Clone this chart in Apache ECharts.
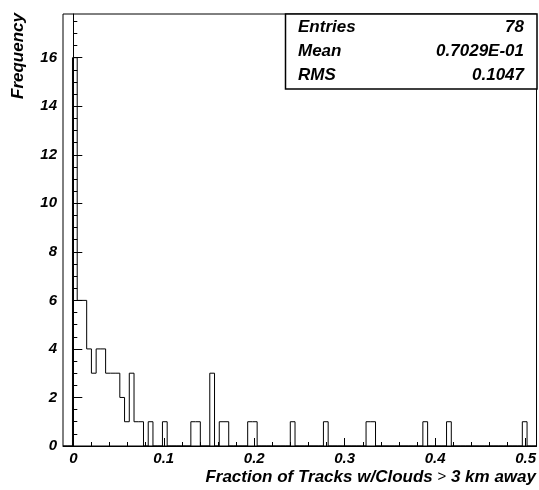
<!DOCTYPE html>
<html>
<head>
<meta charset="utf-8">
<script src="https://cdn.jsdelivr.net/npm/echarts@6/dist/echarts.min.js"></script>
<style>
  html, body { margin: 0; padding: 0; background: #fff; }
  #hist { width: 539px; height: 490px; }
</style>
</head>
<body>
<div id="hist"></div>
<script>
  // histogram binning (100 bins)
  var binLow = -0.0114;
  var binHigh = 0.5121;
  var counts = [
    0, 0, 16, 6, 6, 4, 3, 4, 4, 3,
    3, 3, 2, 1, 3, 1, 1, 0, 1, 0,
    0, 1, 0, 0, 0, 0, 0, 1, 1, 0,
    0, 3, 0, 1, 1, 0, 0, 0, 0, 1,
    1, 0, 0, 0, 0, 0, 0, 0, 1, 0,
    0, 0, 0, 0, 0, 1, 0, 0, 0, 0,
    0, 0, 0, 0, 1, 1, 0, 0, 0, 0,
    0, 0, 0, 0, 0, 0, 1, 0, 0, 0,
    0, 1, 0, 0, 0, 0, 0, 0, 0, 0,
    0, 0, 0, 0, 0, 0, 0, 1, 0, 0
  ];
  var yMax = 17.8;
  var xMajor = [0, 0.1, 0.2, 0.3, 0.4, 0.5];
  var yMajor = [0, 2, 4, 6, 8, 10, 12, 14, 16];
  var statNames = ['Entries', 'Mean', 'RMS'];
  var statValues = ['78', '0.7029E-01', '0.1047'];

  var xMinor = [];
  for (var k = 1; k <= 25; k++) {
    if (k % 5 !== 0) xMinor.push(+(k * 0.02).toFixed(2));
  }
  var yMinor = [];
  for (var m = 1; m <= 35; m++) {
    if (m % 4 !== 0) yMinor.push(m * 0.5);
  }

  var binW = (binHigh - binLow) / counts.length;
  var steps = counts.map(function(c, i) { return [binLow + i * binW, c]; });
  steps.push([binHigh, 0]);

  var font = 'Liberation Sans, Arial, Helvetica, sans-serif';
  var black = '#000';

  // stats box texts
  var statTexts = [];
  statNames.forEach(function(name, i) {
    statTexts.push({
      type: 'text', z: 101, x: 298, y: 27 + i * 24,
      style: { text: name, fill: black, font: 'italic bold 17px ' + font, textVerticalAlign: 'middle' }
    });
    statTexts.push({
      type: 'text', z: 101, x: 524, y: 27 + i * 24,
      style: { text: statValues[i], fill: black, font: 'italic bold 17px ' + font, textAlign: 'right', textVerticalAlign: 'middle' }
    });
  });

  var chart = echarts.init(document.getElementById('hist'));
  chart.setOption({
    animation: false,
    backgroundColor: '#fff',
    grid: {
      left: 63, right: 2, top: 14, bottom: 44,
      show: true, borderColor: black, borderWidth: 1
    },
    xAxis: [
      {
        type: 'value', min: binLow, max: binHigh, position: 'bottom',
        axisLine: { lineStyle: { color: black, width: 1 } },
        axisTick: { inside: true, length: 8, customValues: xMajor, lineStyle: { color: black } },
        axisLabel: {
          customValues: xMajor, margin: 5,
          color: black, fontFamily: font, fontSize: 15, fontWeight: 'bold', fontStyle: 'italic'
        },
        splitLine: { show: false }
      },
      {
        type: 'value', min: binLow, max: binHigh, position: 'bottom',
        axisLine: { show: false },
        axisTick: { inside: true, length: 4, customValues: xMinor, lineStyle: { color: black } },
        axisLabel: { show: false },
        splitLine: { show: false }
      }
    ],
    yAxis: [
      {
        type: 'value', min: 0, max: yMax, position: 'left',
        axisLine: { show: true, lineStyle: { color: black, width: 1 } },
        axisTick: { show: true, inside: true, length: 9, customValues: yMajor, lineStyle: { color: black } },
        axisLabel: {
          customValues: yMajor, margin: 6,
          color: black, fontFamily: font, fontSize: 15, fontWeight: 'bold', fontStyle: 'italic'
        },
        splitLine: { show: false }
      },
      {
        type: 'value', min: 0, max: yMax, position: 'left',
        axisLine: { show: false },
        axisTick: { show: true, inside: true, length: 4, customValues: yMinor, lineStyle: { color: black } },
        axisLabel: { show: false },
        splitLine: { show: false }
      }
    ],
    series: [
      {
        type: 'line',
        xAxisIndex: 0, yAxisIndex: 0,
        step: 'end',
        symbol: 'none',
        lineStyle: { color: black, width: 1 },
        data: steps
      }
    ],
    graphic: [
      {
        type: 'text', x: 18, y: 13, rotation: Math.PI / 2,
        style: {
          text: 'Frequency', fill: black, font: 'italic bold 17px ' + font,
          textAlign: 'right', textVerticalAlign: 'middle'
        }
      },
      {
        type: 'text', x: 536, y: 477,
        style: {
          text: '{a|Fraction of Tracks w/Clouds }{b|>}{a| 3 km away}',
          textAlign: 'right', textVerticalAlign: 'middle',
          rich: {
            a: { fontFamily: font, fontSize: 17, fontWeight: 'bold', fontStyle: 'italic', fill: black },
            b: { fontFamily: font, fontSize: 15, fill: black }
          }
        }
      },
      {
        type: 'rect', z: 100,
        shape: { x: 285.5, y: 14, width: 251.5, height: 75 },
        style: { fill: '#fff', stroke: black, lineWidth: 1.5 }
      }
    ].concat(statTexts)
  });
</script>
</body>
</html>
